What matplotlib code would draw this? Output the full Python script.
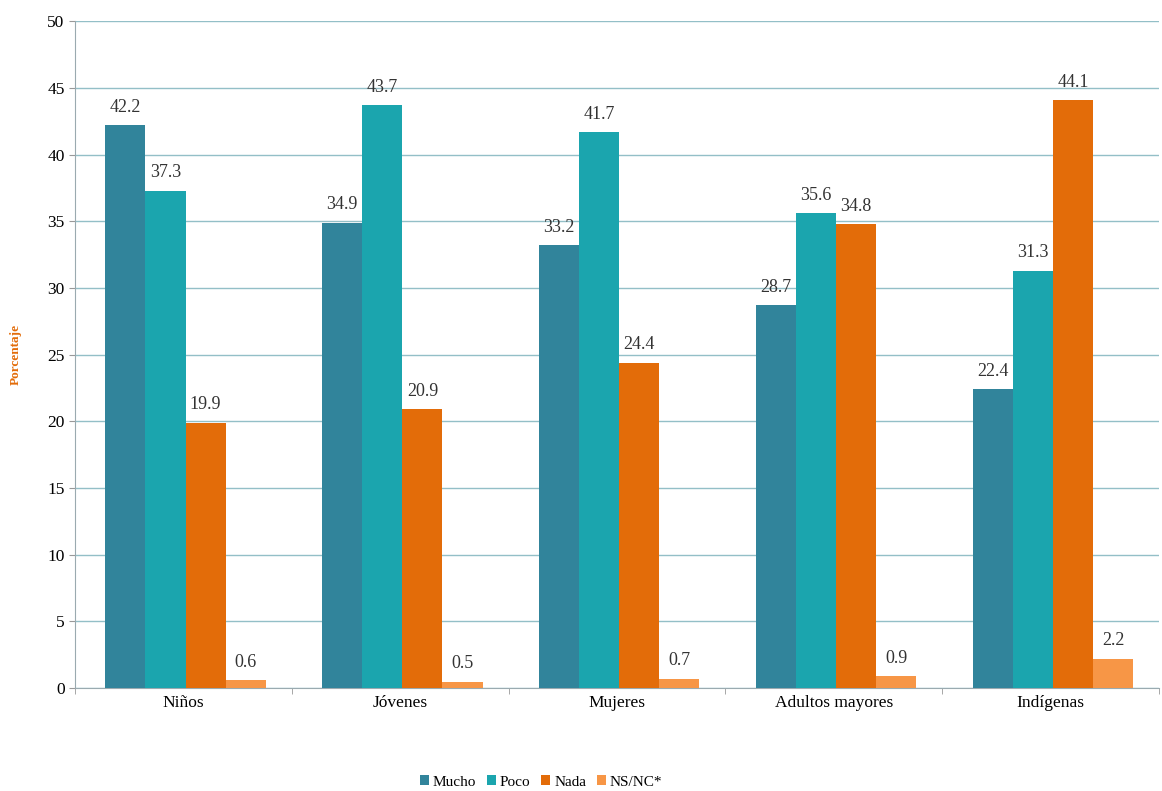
import numpy as np
import matplotlib.pyplot as plt

plt.rcParams['font.family'] = ['Liberation Serif', 'DejaVu Serif']

categories = ["Niños", "Jóvenes", "Mujeres", "Adultos mayores", "Indígenas"]
series = ["Mucho", "Poco", "Nada", "NS/NC*"]
mucho = [42.2, 34.9, 33.2, 28.7, 22.4]
poco = [37.3, 43.7, 41.7, 35.6, 31.3]
nada = [19.9, 20.9, 24.4, 34.8, 44.1]
nsnc = [0.6, 0.5, 0.7, 0.9, 2.2]
values = [mucho, poco, nada, nsnc]
colors = ["#31849B", "#1BA5AE", "#E36C09", "#F79646"]

fig = plt.figure(figsize=(11.62, 7.91), dpi=100)
ax = fig.add_axes([0.0645, 0.130, 0.933, 0.843])

x = np.arange(len(categories))
w = 0.185
for i, (name, vals) in enumerate(zip(series, values)):
    pos = x + (i - 1.5) * w + 0.01
    ax.bar(pos, vals, w, color=colors[i], label=name, zorder=3)
    for p, v in zip(pos, vals):
        ax.text(p, v + 0.7, f"{v:.1f}", ha='center', va='bottom', fontsize=13, color='#333333', zorder=4)

ax.set_xlim(-0.5, len(categories) - 0.5)
ax.set_ylim(0, 50)
ax.set_yticks(range(0, 51, 5))
ax.set_xticks(x)
ax.set_xticklabels(categories, fontsize=12.5)
ax.set_xticks(np.arange(-0.5, len(categories)), minor=True)
ax.tick_params(axis='x', which='major', length=0, pad=5)
ax.tick_params(axis='x', which='minor', length=4, color='#999999')
ax.tick_params(axis='y', labelsize=12.5, length=4, color='#999999')
ax.grid(axis='y', color='#93BFC7', linewidth=1, zorder=0)
for s in ['top', 'right']:
    ax.spines[s].set_visible(False)
ax.spines['left'].set_color('#9AAAB0')
ax.spines['bottom'].set_color('#9AAAB0')

ax.set_ylabel("Porcentaje", color='#E36C09', fontsize=9.5, fontweight='bold', labelpad=18)

ax.legend(loc='upper center', bbox_to_anchor=(0.43, -0.11), ncol=4, frameon=False,
          fontsize=11, handlelength=0.6, handleheight=0.6, handletextpad=0.25, columnspacing=0.7)

fig.savefig("out.png", dpi=100)
